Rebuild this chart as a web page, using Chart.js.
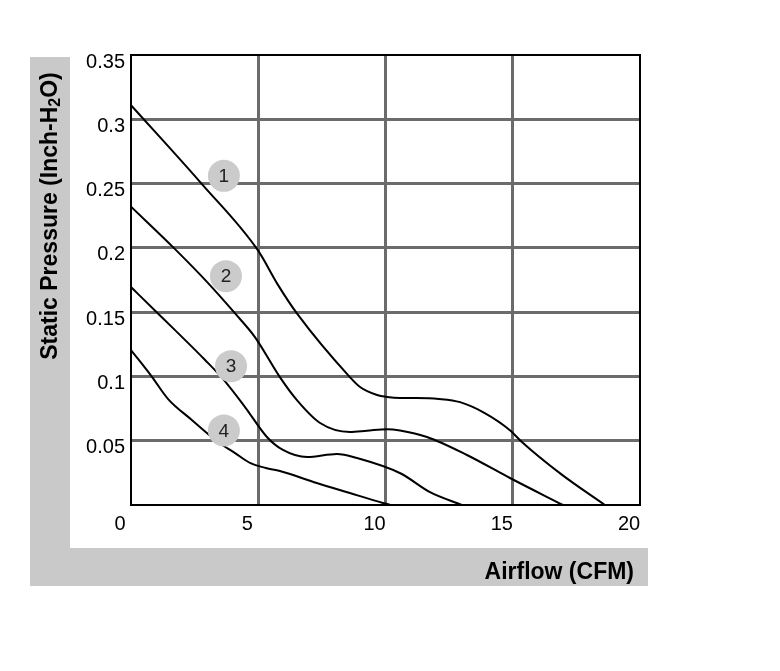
<!DOCTYPE html>
<html>
<head>
<meta charset="utf-8">
<script src="https://cdn.jsdelivr.net/npm/chart.js@4.4.1/dist/chart.umd.min.js"></script>
<style>
  html, body { margin: 0; padding: 0; background: #fff; }
  #wrap { width: 780px; height: 671px; }
</style>
</head>
<body>
<div id="wrap"><canvas id="fanChart" width="780" height="671"></canvas></div>
<script>
// fan curves (airflow CFM, static pressure inch-H2O)
var flow1 = [0, 2.77, 4.99, 5.75, 6.52, 8.6, 9.0, 9.67, 10.06, 10.57, 11.2, 12.1, 12.93, 13.9, 14.9, 15.36, 16.9, 18.62];
var pres1 = [0.311, 0.25, 0.198, 0.172, 0.149, 0.0995, 0.0918, 0.0855, 0.084, 0.0832, 0.0832, 0.0825, 0.080, 0.0715, 0.058, 0.049, 0.024, 0];

var flow2 = [0, 1.73, 3.03, 4.09, 4.87, 5.85, 6.52, 7.43, 8.6, 9.27, 10.06, 10.57, 11.63, 13.2, 14.89, 16.97];
var pres2 = [0.232, 0.199, 0.1726, 0.149, 0.1306, 0.0995, 0.0816, 0.0638, 0.0568, 0.0578, 0.059, 0.058, 0.0529, 0.0389, 0.021, 0];

var flow3 = [0, 1.06, 1.73, 2.91, 3.58, 4.48, 5.34, 5.97, 6.92, 8.09, 8.88, 10.6, 11.75, 13.0];
var pres3 = [0.1695, 0.149, 0.136, 0.1128, 0.0988, 0.0762, 0.0529, 0.0428, 0.0373, 0.0397, 0.0365, 0.0245, 0.010, 0];

var flow4 = [0, 0.83, 1.45, 2.4, 3.42, 4.09, 4.7, 5.3, 5.85, 7.3, 8.6, 9.9, 10.2];
var pres4 = [0.1205, 0.0995, 0.0826, 0.066, 0.049, 0.0404, 0.0325, 0.0288, 0.0264, 0.0171, 0.0093, 0.0016, 0];

// numbered markers
var markerNames = ['1', '2', '3', '4'];
var markerFlow = [3.65, 3.73, 3.93, 3.65];
var markerPres = [0.256, 0.178, 0.108, 0.058];

var xTicks = [0, 5, 10, 15, 20];

function toPoints(xs, ys){
    var pts = [];
    for (var i = 0; i < xs.length; i++) pts.push({x: xs[i], y: ys[i]});
    return pts;
}

function curve(xs, ys){
    return {
        data: toPoints(xs, ys),
        showLine: true,
        borderColor: '#000',
        borderWidth: 2,
        pointRadius: 0,
        cubicInterpolationMode: 'monotone',
        order: 1
    };
}

var FONT = 'Arial, "Liberation Sans", sans-serif';

// gray L-shaped backdrop behind the axis titles
var backdrop = {
    id: 'backdrop',
    beforeDraw: function(chart){
        var c = chart.ctx;
        c.save();
        c.fillStyle = '#c9c9c9';
        c.fillRect(30, 57, 40, 529);
        c.fillRect(30, 548, 618, 38);
        c.restore();
    }
};

var decorations = {
    id: 'decorations',
    afterDraw: function(chart){
        var c = chart.ctx;
        var area = chart.chartArea;
        c.save();
        // plot frame
        c.strokeStyle = '#000';
        c.lineWidth = 2;
        c.strokeRect(area.left, area.top, area.right - area.left, area.bottom - area.top);

        // marker numbers
        var meta = chart.getDatasetMeta(4);
        c.fillStyle = '#222';
        c.font = '19px ' + FONT;
        c.textAlign = 'center';
        c.textBaseline = 'middle';
        meta.data.forEach(function(el, i){
            c.fillText(markerNames[i], el.x, el.y + 1);
        });

        // x title
        c.fillStyle = '#000';
        c.font = 'bold 23px ' + FONT;
        c.textAlign = 'right';
        c.fillText('Airflow (CFM)', 634, 573);

        // y title with subscript
        c.translate(51, 216);
        c.rotate(-Math.PI / 2);
        var a = 'Static Pressure (Inch-H', b = '2', d = 'O)';
        c.font = 'bold 23px ' + FONT;
        var wa = c.measureText(a).width, wd = c.measureText(d).width;
        c.font = 'bold 16px ' + FONT;
        var wb = c.measureText(b).width;
        var x0 = -(wa + wb + wd) / 2;
        c.textAlign = 'left';
        c.font = 'bold 23px ' + FONT;
        c.fillText(a, x0, 0);
        c.font = 'bold 16px ' + FONT;
        c.fillText(b, x0 + wa, 5);
        c.font = 'bold 23px ' + FONT;
        c.fillText(d, x0 + wa + wb, 0);
        c.restore();
    }
};

var ctx = document.getElementById('fanChart');
var fanChart = new Chart(ctx, {
    type: 'scatter',
    data: {
        datasets: [
            curve(flow1, pres1),
            curve(flow2, pres2),
            curve(flow3, pres3),
            curve(flow4, pres4),
            {
                data: toPoints(markerFlow, markerPres),
                pointRadius: 16,
                pointHoverRadius: 16,
                backgroundColor: '#cbcbcb',
                borderWidth: 0,
                order: 0
            }
        ]
    },
    options: {
        responsive: false,
        animation: false,
        events: [],
        layout: { padding: { left: 0, right: 140, top: 55, bottom: 126 } },
        plugins: { legend: { display: false }, tooltip: { enabled: false } },
        scales: {
            x: {
                type: 'linear',
                min: 0,
                max: 20,
                afterBuildTicks: function(scale){
                    scale.ticks = xTicks.map(function(v){ return {value: v}; });
                },
                afterFit: function(scale){ scale.height = 40; },
                border: { display: false },
                grid: {
                    drawTicks: false,
                    lineWidth: 3,
                    color: function(c){
                        return (c.tick && (c.tick.value === 0 || c.tick.value === 20)) ? 'rgba(0,0,0,0)' : '#6b6b6b';
                    }
                },
                ticks: {
                    color: '#000',
                    font: { size: 20, family: FONT },
                    padding: 7,
                    labelOffset: -11,
                    maxRotation: 0
                }
            },
            y: {
                min: 0,
                max: 0.35,
                afterFit: function(scale){ scale.width = 131; },
                border: { display: false },
                grid: {
                    drawTicks: false,
                    lineWidth: 3,
                    color: function(c){
                        var v = c.tick ? Math.round(c.tick.value * 100) : -1;
                        return (v === 0 || v === 35) ? 'rgba(0,0,0,0)' : '#6b6b6b';
                    }
                },
                ticks: {
                    stepSize: 0.05,
                    color: '#000',
                    font: { size: 20, family: FONT },
                    padding: 6,
                    labelOffset: 7,
                    callback: function(v){
                        var r = Math.round(v * 100) / 100;
                        return r === 0 ? '' : String(r);
                    }
                }
            }
        }
    },
    plugins: [backdrop, decorations]
});
</script>
</body>
</html>
